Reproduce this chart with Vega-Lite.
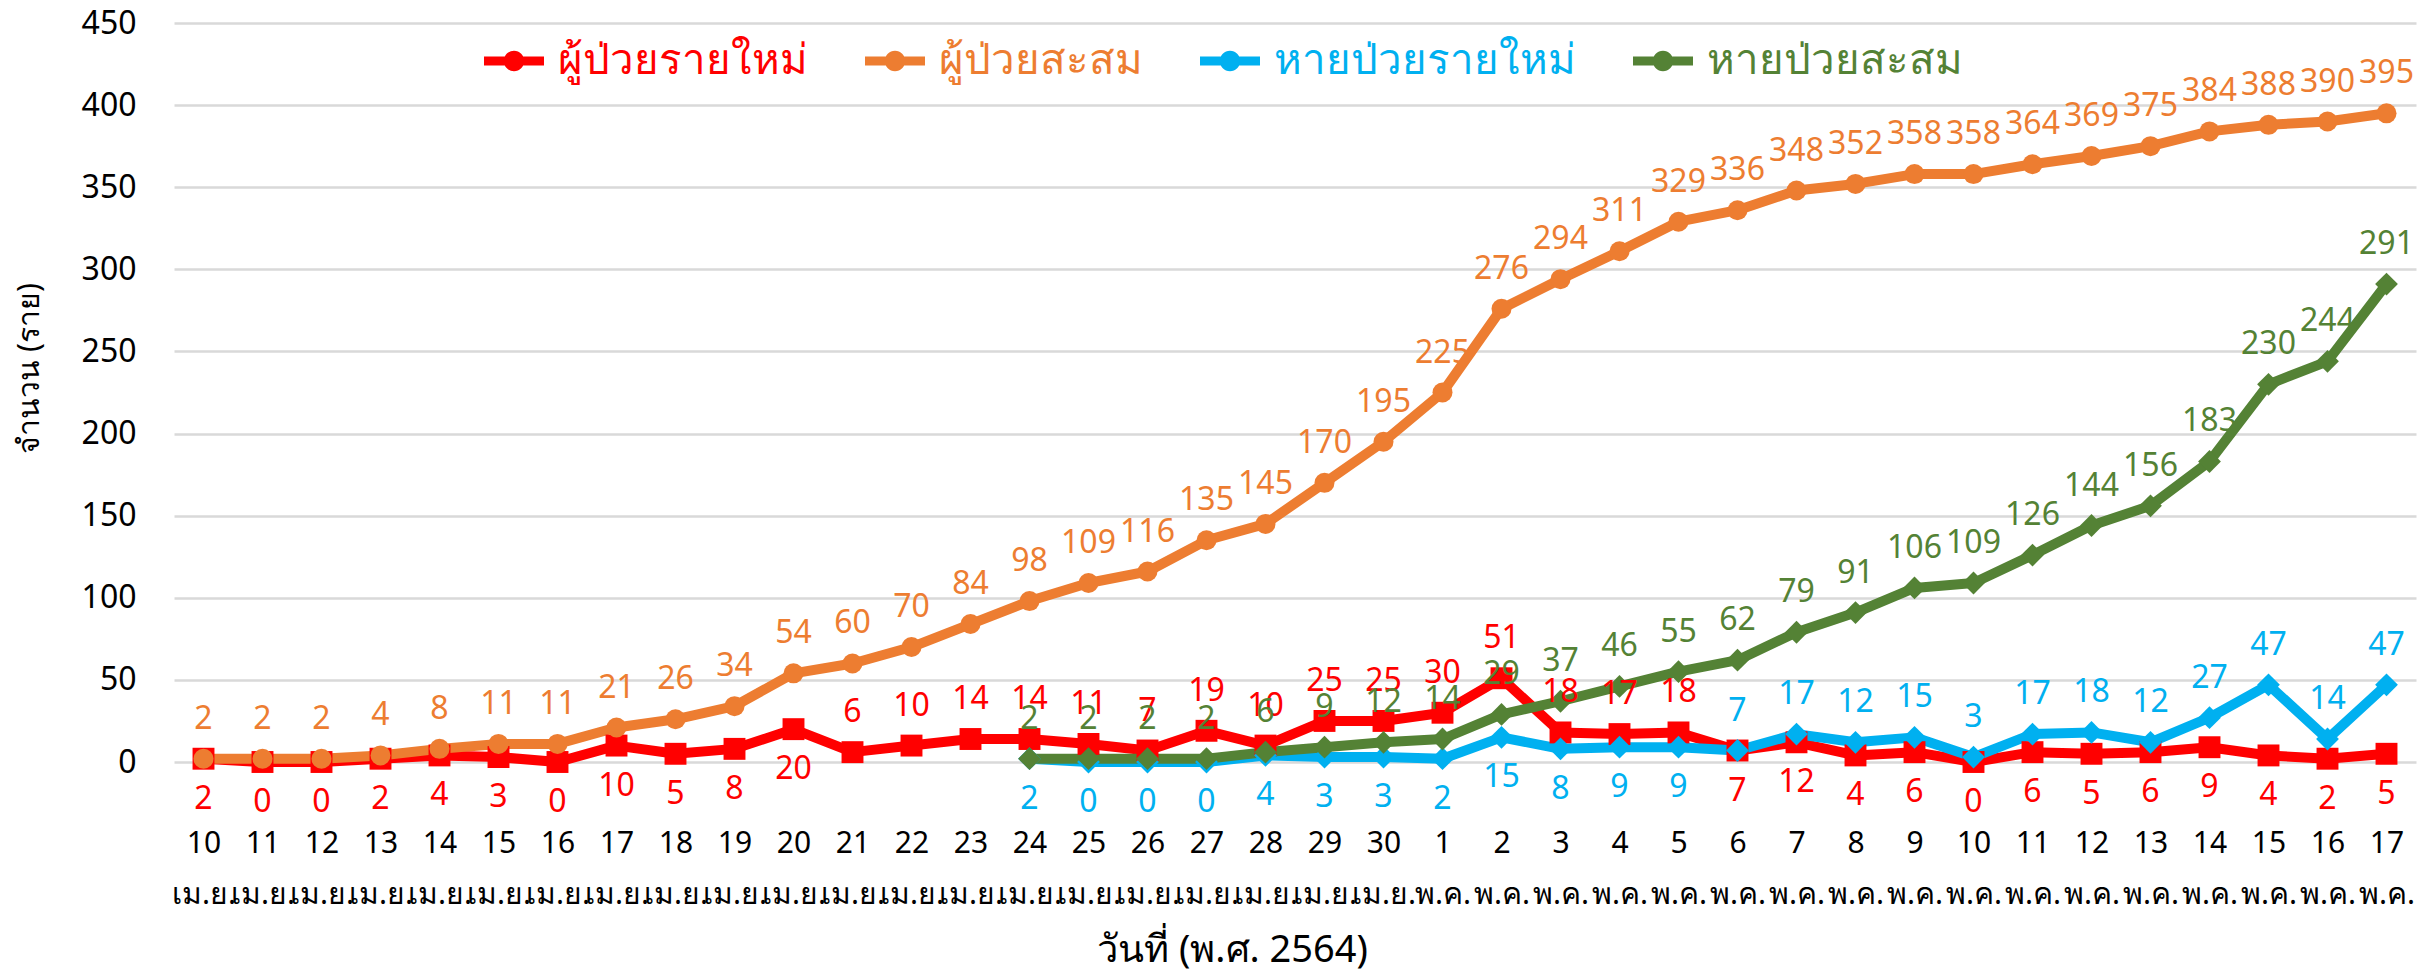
{
  "$schema": "https://vega.github.io/schema/vega-lite/v6.json",
  "autosize": {"type": "none"},
  "width": 2242,
  "height": 739,
  "padding": {"left": 174, "top": 23, "right": 17, "bottom": 211},
  "background": "white",
  "config": {
    "view": {"stroke": null},
    "font": "Noto Sans",
    "axis": {"labelFont": "Noto Sans", "titleFont": "Noto Sans", "labelColor": "#000000", "titleColor": "#000000"},
    "legend": {"labelFont": "Noto Sans"}
  },
  "data": {
    "values": [
      {"date": "2021-04-10", "ผู้ป่วยรายใหม่": 2, "ผู้ป่วยสะสม": 2, "หายป่วยรายใหม่": null, "หายป่วยสะสม": null},
      {"date": "2021-04-11", "ผู้ป่วยรายใหม่": 0, "ผู้ป่วยสะสม": 2, "หายป่วยรายใหม่": null, "หายป่วยสะสม": null},
      {"date": "2021-04-12", "ผู้ป่วยรายใหม่": 0, "ผู้ป่วยสะสม": 2, "หายป่วยรายใหม่": null, "หายป่วยสะสม": null},
      {"date": "2021-04-13", "ผู้ป่วยรายใหม่": 2, "ผู้ป่วยสะสม": 4, "หายป่วยรายใหม่": null, "หายป่วยสะสม": null},
      {"date": "2021-04-14", "ผู้ป่วยรายใหม่": 4, "ผู้ป่วยสะสม": 8, "หายป่วยรายใหม่": null, "หายป่วยสะสม": null},
      {"date": "2021-04-15", "ผู้ป่วยรายใหม่": 3, "ผู้ป่วยสะสม": 11, "หายป่วยรายใหม่": null, "หายป่วยสะสม": null},
      {"date": "2021-04-16", "ผู้ป่วยรายใหม่": 0, "ผู้ป่วยสะสม": 11, "หายป่วยรายใหม่": null, "หายป่วยสะสม": null},
      {"date": "2021-04-17", "ผู้ป่วยรายใหม่": 10, "ผู้ป่วยสะสม": 21, "หายป่วยรายใหม่": null, "หายป่วยสะสม": null},
      {"date": "2021-04-18", "ผู้ป่วยรายใหม่": 5, "ผู้ป่วยสะสม": 26, "หายป่วยรายใหม่": null, "หายป่วยสะสม": null},
      {"date": "2021-04-19", "ผู้ป่วยรายใหม่": 8, "ผู้ป่วยสะสม": 34, "หายป่วยรายใหม่": null, "หายป่วยสะสม": null},
      {"date": "2021-04-20", "ผู้ป่วยรายใหม่": 20, "ผู้ป่วยสะสม": 54, "หายป่วยรายใหม่": null, "หายป่วยสะสม": null},
      {"date": "2021-04-21", "ผู้ป่วยรายใหม่": 6, "ผู้ป่วยสะสม": 60, "หายป่วยรายใหม่": null, "หายป่วยสะสม": null},
      {"date": "2021-04-22", "ผู้ป่วยรายใหม่": 10, "ผู้ป่วยสะสม": 70, "หายป่วยรายใหม่": null, "หายป่วยสะสม": null},
      {"date": "2021-04-23", "ผู้ป่วยรายใหม่": 14, "ผู้ป่วยสะสม": 84, "หายป่วยรายใหม่": null, "หายป่วยสะสม": null},
      {"date": "2021-04-24", "ผู้ป่วยรายใหม่": 14, "ผู้ป่วยสะสม": 98, "หายป่วยรายใหม่": 2, "หายป่วยสะสม": 2},
      {"date": "2021-04-25", "ผู้ป่วยรายใหม่": 11, "ผู้ป่วยสะสม": 109, "หายป่วยรายใหม่": 0, "หายป่วยสะสม": 2},
      {"date": "2021-04-26", "ผู้ป่วยรายใหม่": 7, "ผู้ป่วยสะสม": 116, "หายป่วยรายใหม่": 0, "หายป่วยสะสม": 2},
      {"date": "2021-04-27", "ผู้ป่วยรายใหม่": 19, "ผู้ป่วยสะสม": 135, "หายป่วยรายใหม่": 0, "หายป่วยสะสม": 2},
      {"date": "2021-04-28", "ผู้ป่วยรายใหม่": 10, "ผู้ป่วยสะสม": 145, "หายป่วยรายใหม่": 4, "หายป่วยสะสม": 6},
      {"date": "2021-04-29", "ผู้ป่วยรายใหม่": 25, "ผู้ป่วยสะสม": 170, "หายป่วยรายใหม่": 3, "หายป่วยสะสม": 9},
      {"date": "2021-04-30", "ผู้ป่วยรายใหม่": 25, "ผู้ป่วยสะสม": 195, "หายป่วยรายใหม่": 3, "หายป่วยสะสม": 12},
      {"date": "2021-05-01", "ผู้ป่วยรายใหม่": 30, "ผู้ป่วยสะสม": 225, "หายป่วยรายใหม่": 2, "หายป่วยสะสม": 14},
      {"date": "2021-05-02", "ผู้ป่วยรายใหม่": 51, "ผู้ป่วยสะสม": 276, "หายป่วยรายใหม่": 15, "หายป่วยสะสม": 29},
      {"date": "2021-05-03", "ผู้ป่วยรายใหม่": 18, "ผู้ป่วยสะสม": 294, "หายป่วยรายใหม่": 8, "หายป่วยสะสม": 37},
      {"date": "2021-05-04", "ผู้ป่วยรายใหม่": 17, "ผู้ป่วยสะสม": 311, "หายป่วยรายใหม่": 9, "หายป่วยสะสม": 46},
      {"date": "2021-05-05", "ผู้ป่วยรายใหม่": 18, "ผู้ป่วยสะสม": 329, "หายป่วยรายใหม่": 9, "หายป่วยสะสม": 55},
      {"date": "2021-05-06", "ผู้ป่วยรายใหม่": 7, "ผู้ป่วยสะสม": 336, "หายป่วยรายใหม่": 7, "หายป่วยสะสม": 62},
      {"date": "2021-05-07", "ผู้ป่วยรายใหม่": 12, "ผู้ป่วยสะสม": 348, "หายป่วยรายใหม่": 17, "หายป่วยสะสม": 79},
      {"date": "2021-05-08", "ผู้ป่วยรายใหม่": 4, "ผู้ป่วยสะสม": 352, "หายป่วยรายใหม่": 12, "หายป่วยสะสม": 91},
      {"date": "2021-05-09", "ผู้ป่วยรายใหม่": 6, "ผู้ป่วยสะสม": 358, "หายป่วยรายใหม่": 15, "หายป่วยสะสม": 106},
      {"date": "2021-05-10", "ผู้ป่วยรายใหม่": 0, "ผู้ป่วยสะสม": 358, "หายป่วยรายใหม่": 3, "หายป่วยสะสม": 109},
      {"date": "2021-05-11", "ผู้ป่วยรายใหม่": 6, "ผู้ป่วยสะสม": 364, "หายป่วยรายใหม่": 17, "หายป่วยสะสม": 126},
      {"date": "2021-05-12", "ผู้ป่วยรายใหม่": 5, "ผู้ป่วยสะสม": 369, "หายป่วยรายใหม่": 18, "หายป่วยสะสม": 144},
      {"date": "2021-05-13", "ผู้ป่วยรายใหม่": 6, "ผู้ป่วยสะสม": 375, "หายป่วยรายใหม่": 12, "หายป่วยสะสม": 156},
      {"date": "2021-05-14", "ผู้ป่วยรายใหม่": 9, "ผู้ป่วยสะสม": 384, "หายป่วยรายใหม่": 27, "หายป่วยสะสม": 183},
      {"date": "2021-05-15", "ผู้ป่วยรายใหม่": 4, "ผู้ป่วยสะสม": 388, "หายป่วยรายใหม่": 47, "หายป่วยสะสม": 230},
      {"date": "2021-05-16", "ผู้ป่วยรายใหม่": 2, "ผู้ป่วยสะสม": 390, "หายป่วยรายใหม่": 14, "หายป่วยสะสม": 244},
      {"date": "2021-05-17", "ผู้ป่วยรายใหม่": 5, "ผู้ป่วยสะสม": 395, "หายป่วยรายใหม่": 47, "หายป่วยสะสม": 291}
    ]
  },
  "transform": [
    {"fold": ["ผู้ป่วยรายใหม่", "ผู้ป่วยสะสม", "หายป่วยรายใหม่", "หายป่วยสะสม"], "as": ["series", "value"]},
    {"filter": "isValid(datum.value)"}
  ],
  "encoding": {
    "x": {
      "field": "date", "type": "ordinal", "title": "วันที่ (พ.ศ. 2564)",
      "axis": {
        "labelExpr": "[toString(parseInt(slice(datum.value, 8, 10))), slice(datum.value, 5, 7) == '04' ? 'เม.ย.' : 'พ.ค.']",
        "labelAngle": 0, "labelFontSize": 30, "labelLineHeight": 51, "labelPadding": 66, "labelBaseline": "top",
        "domain": false, "ticks": false, "grid": false,
        "titleFontSize": 38, "titleFontWeight": "normal", "titleX": 1058, "titleAlign": "center", "titleY": 188, "titleBaseline": "middle"
      }
    },
    "y": {
      "field": "value", "type": "quantitative", "title": "จำนวน (ราย)",
      "scale": {"domain": [0, 450], "nice": false},
      "axis": {
        "values": [0, 50, 100, 150, 200, 250, 300, 350, 400, 450],
        "labelFontSize": 32, "labelPadding": 38, "domain": false, "ticks": false,
        "gridColor": "#D9D9D9", "gridWidth": 2.5,
        "titleFontSize": 30, "titleFontWeight": "normal", "titleX": -145, "titleY": 345, "titleBaseline": "middle", "titleAlign": "center", "titleAngle": -90
      }
    },
    "color": {
      "field": "series", "type": "nominal",
      "scale": {
        "domain": ["ผู้ป่วยรายใหม่", "ผู้ป่วยสะสม", "หายป่วยรายใหม่", "หายป่วยสะสม"],
        "range": ["#FF0000", "#ED7D31", "#00B0F0", "#548235"]
      },
      "legend": {
        "orient": "none", "legendX": 310, "legendY": 8, "direction": "horizontal", "title": null,
        "labelFontSize": 42, "labelLimit": 0, "columnPadding": 57, "labelOffset": 14, "padding": 0,
        "symbolType": "M-1,-0.15H1V0.15H-1Z M-0.34,0A0.34,0.34,0,1,1,0.34,0A0.34,0.34,0,1,1,-0.34,0Z",
        "symbolSize": 3600, "symbolStrokeWidth": 0,
        "encode": {
          "symbols": {"update": {"fill": {"scale": "color", "field": "value"}, "stroke": {"value": "transparent"}, "opacity": {"value": 1}}},
          "labels": {"update": {"fill": {"scale": "color", "field": "value"}}}
        }
      }
    }
  },
  "layer": [
    {"mark": {"type": "line", "strokeWidth": 10, "strokeJoin": "round"}, "encoding": {"detail": {"field": "series"}}},
    {
      "transform": [{"filter": "datum.series == 'ผู้ป่วยรายใหม่'"}],
      "mark": {"type": "point", "filled": true, "shape": "square", "size": 480, "opacity": 1}
    },
    {
      "transform": [{"filter": "datum.series == 'ผู้ป่วยสะสม'"}],
      "mark": {"type": "point", "filled": true, "shape": "circle", "size": 400, "opacity": 1}
    },
    {
      "transform": [{"filter": "datum.series == 'หายป่วยรายใหม่' || datum.series == 'หายป่วยสะสม'"}],
      "mark": {"type": "point", "filled": true, "shape": "diamond", "size": 520, "opacity": 1}
    },
    {
      "transform": [{"filter": "datum.series == 'ผู้ป่วยสะสม' || datum.series == 'หายป่วยสะสม' || (datum.series == 'ผู้ป่วยรายใหม่' && datum.date >= '2021-04-21' && datum.date <= '2021-05-05') || (datum.series == 'หายป่วยรายใหม่' && datum.date >= '2021-05-06')"}],
      "mark": {"type": "text", "fontSize": 32, "dy": -40, "baseline": "middle"},
      "encoding": {"text": {"field": "value", "type": "quantitative"}}
    },
    {
      "transform": [{"filter": "(datum.series == 'ผู้ป่วยรายใหม่' && (datum.date < '2021-04-21' || datum.date > '2021-05-05')) || (datum.series == 'หายป่วยรายใหม่' && datum.date < '2021-05-06')"}],
      "mark": {"type": "text", "fontSize": 32, "dy": 40, "baseline": "middle"},
      "encoding": {"text": {"field": "value", "type": "quantitative"}}
    }
  ]
}
